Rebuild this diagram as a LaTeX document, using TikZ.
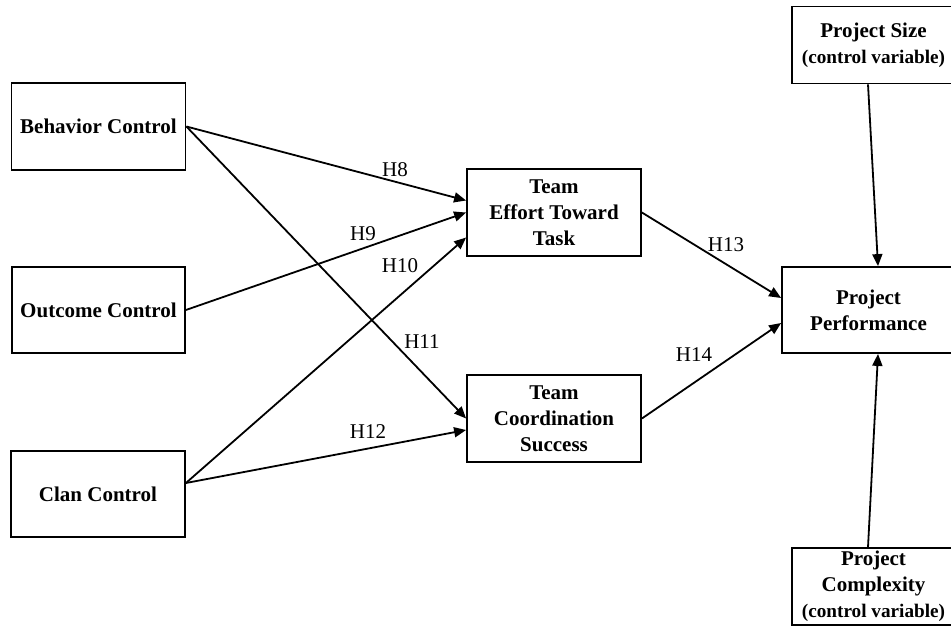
\documentclass[tikz,border=0pt]{standalone}
\usepackage{fontspec}
\setmainfont{Liberation Serif}
\usetikzlibrary{arrows.meta}
\usetikzlibrary{calc}

\tikzset{
    construct/.style={draw, line width=0.9pt, align=center, inner sep=1pt,
        font=\fontsize{10.5}{13}\selectfont\bfseries},
    control/.style={construct, minimum width=81.5pt, minimum height=38.5pt},
    link/.style={line width=0.9pt, -{Triangle[length=6pt,width=5pt]}},
    hyp/.style={font=\fontsize{10.5}{13}\selectfont, inner sep=0pt},
}
\newcommand{\ctrlvar}{{\fontsize{9.6}{12}\selectfont(control variable)}}

\begin{document}
\begin{tikzpicture}[x=0.5pt, y=-0.5pt, >=Stealth]

    \clip (0,0) rectangle (951,626);

    % antecedents
    \node[construct, minimum width=87pt, minimum height=43.5pt] (behav) at (98.5,126.5) {Behavior Control};
    \node[construct, minimum width=86.5pt, minimum height=43pt] (outcome) at (98.5,310) {Outcome Control};
    \node[construct, minimum width=87pt, minimum height=43pt] (clan) at (98,494) {Clan Control};

    % mediators
    \node[construct, minimum width=87pt, minimum height=43.5pt] (effort) at (554,212.5) {Team\\Effort Toward\\Task};
    \node[construct, minimum width=87pt, minimum height=43.5pt] (coord) at (554,418.5) {Team\\Coordination\\Success};

    % outcome and controls
    \node[construct, minimum width=86.5pt, minimum height=43pt] (perf) at (868.5,310) {Project\\Performance};
    \node[control] (size) at (873.5,45) {Project Size\\\ctrlvar};
    \node[control] (complex) at (873.5,586.5) {Project\\Complexity\\\ctrlvar};

    \coordinate (clanout) at ($(clan.east)+(0,-11)$);

    \draw[link] (behav.east) -- ($(effort.west)+(0,-12)$);
    \draw[link] (outcome.east) -- (effort.west);
    \draw[link] (clanout) -- ($(effort.west)+(0,25)$);
    \draw[link] (behav.east) -- (coord.west);
    \draw[link] (clanout) -- ($(coord.west)+(0,11.5)$);
    \draw[link] (effort.east) -- ($(perf.west)+(0,-12)$);
    \draw[link] (coord.east) -- ($(perf.west)+(0,13)$);
    \draw[link] ($(size.south)+(-5.5,0)$) -- ($(perf.north)+(9.5,0)$);
    \draw[link] ($(complex.north)+(-5.5,0)$) -- ($(perf.south)+(9.5,0)$);

    % hypothesis labels
    \node[hyp] (h8) at (395,170) {H8};
    \node[hyp] (h9) at (363,234) {H9};
    \node[hyp] (h10) at (400,266) {H10};
    \node[hyp] (h11) at (422,342) {H11};
    \node[hyp] (h12) at (368,432) {H12};
    \node[hyp] (h13) at (726,245) {H13};
    \node[hyp] (h14) at (694,355) {H14};

\end{tikzpicture}
\end{document}
